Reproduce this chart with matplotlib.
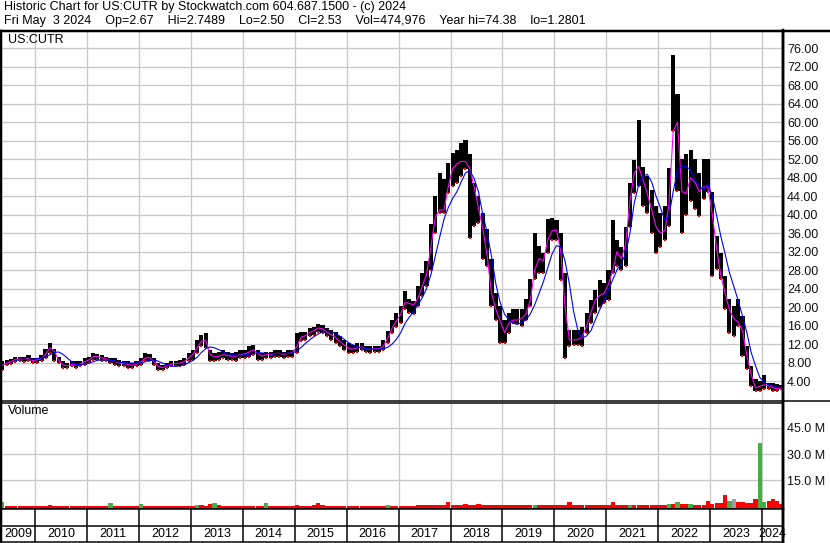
import numpy as np
import pandas as pd
import matplotlib
matplotlib.use("Agg")
import matplotlib.pyplot as plt
from matplotlib.lines import Line2D

plt.rcParams['font.family'] = ['Liberation Sans', 'DejaVu Sans']

# monthly values, May 2009 .. May 2024
months = pd.date_range('2009-05-01', '2024-05-01', freq='MS')

high = [
    8.3, 8.6, 8.8, 9.3, 9.3, 9.2, 9.7, 9.0,
    9.0, 9.7, 11.0, 12.2, 11.0, 9.2, 8.3, 8.0, 8.3, 8.3, 8.3, 9.0,
    9.3, 10.1, 9.9, 9.7, 9.3, 9.0, 9.0, 8.6, 8.3, 8.3, 7.9, 8.3,
    9.0, 10.1, 9.9, 9.0, 7.9, 7.5, 7.9, 8.3, 8.3, 8.6, 9.0, 10.1,
    10.8, 12.9, 14.0, 14.4, 10.8, 10.1, 10.4, 10.8, 10.4, 10.1, 10.4, 10.8,
    10.8, 11.5, 11.9, 10.8, 10.1, 10.4, 10.4, 10.8, 10.8, 10.4, 10.8, 10.8,
    14.4, 14.7, 14.7, 15.5, 15.8, 16.4, 16.2, 15.5, 15.1, 14.7, 13.7, 12.9,
    12.2, 11.9, 12.2, 12.2, 11.5, 11.5, 11.5, 11.5, 12.9, 14.9, 17.3, 18.7,
    20.2, 23.5, 21.7, 21.3, 24.5, 27.4, 30.0, 38.0, 44.0, 49.0, 47.6, 51.2,
    53.4, 54.0, 55.5, 56.2, 53.0, 46.9, 44.0, 40.4, 36.8, 30.3, 23.1, 20.2,
    17.3, 18.8, 19.5, 19.5, 19.5, 21.7, 26.0, 36.0, 33.2, 31.7, 39.0, 39.3,
    38.9, 36.0, 27.4, 15.1, 15.1, 15.1, 15.8, 18.7, 21.6, 23.8, 25.9, 25.2,
    28.1, 38.9, 34.6, 33.1, 37.4, 46.8, 51.9, 60.5, 50.4, 48.3, 45.4, 41.8,
    40.3, 41.8, 50.0, 74.6, 66.0, 52.0, 53.0, 54.0, 52.0, 49.0, 52.0, 52.0,
    44.8, 35.4, 31.8, 26.7, 21.7, 20.2, 21.7, 18.1, 11.6, 7.3, 4.4, 4.0,
    5.3, 3.7, 3.5, 3.3, 3.2,
]
low = [
    6.5, 7.5, 7.8, 8.2, 8.3, 8.2, 8.4, 7.9,
    7.9, 8.3, 9.0, 10.1, 8.3, 7.9, 6.8, 6.8, 7.2, 6.8, 7.2, 7.5,
    7.9, 8.6, 8.6, 8.3, 8.3, 7.9, 7.5, 7.2, 7.2, 6.8, 6.8, 7.2,
    7.5, 8.3, 8.3, 7.5, 6.5, 6.3, 6.8, 7.2, 7.2, 7.2, 7.5, 8.3,
    8.6, 10.1, 11.5, 11.1, 8.3, 8.3, 8.6, 9.0, 8.6, 8.6, 8.3, 9.0,
    9.0, 9.3, 9.7, 8.6, 8.6, 9.0, 9.0, 9.3, 9.3, 9.0, 9.3, 9.3,
    10.1, 12.6, 12.9, 13.7, 14.0, 14.7, 14.4, 13.7, 12.9, 12.2, 11.5, 10.8,
    10.1, 10.1, 10.4, 10.8, 10.4, 10.1, 10.4, 10.4, 10.8, 12.2, 14.4, 15.8,
    16.6, 19.5, 18.8, 18.5, 20.2, 22.4, 24.5, 28.0, 36.0, 40.4, 40.4, 44.7,
    46.2, 46.9, 48.3, 49.8, 35.0, 37.5, 38.2, 30.3, 28.9, 20.2, 17.3, 12.3,
    12.3, 14.4, 16.6, 16.3, 16.0, 17.3, 20.2, 26.0, 27.4, 27.4, 31.7, 34.6,
    34.6, 25.9, 9.0, 11.5, 11.8, 11.8, 11.5, 14.4, 16.6, 18.7, 20.1, 20.9,
    21.6, 27.4, 28.8, 28.1, 28.8, 37.4, 44.6, 46.1, 41.8, 40.3, 36.0, 31.7,
    33.1, 34.6, 37.5, 58.0, 45.0, 36.0, 40.0, 43.0, 41.2, 39.7, 43.3, 44.8,
    26.7, 28.2, 26.0, 19.5, 14.5, 13.8, 15.9, 9.4, 6.6, 2.9, 1.9, 1.9,
    2.2, 2.2, 1.9, 1.9, 2.3,
]
# short moving average (magenta)
ma_fast = [
    7.4, 7.9, 8.2, 8.7, 8.8, 8.7, 8.9, 8.4,
    8.6, 8.9, 9.8, 11.2, 10.5, 8.6, 7.5, 7.3, 7.6, 7.5, 7.7, 8.2,
    8.6, 9.3, 9.3, 9.0, 8.8, 8.5, 8.3, 7.9, 7.8, 7.6, 7.4, 7.7,
    8.2, 9.0, 9.1, 8.3, 7.2, 6.9, 7.3, 7.7, 7.8, 7.9, 8.2, 9.0,
    9.8, 11.3, 12.6, 12.8, 9.8, 9.2, 9.4, 9.7, 9.5, 9.4, 9.4, 9.7,
    9.9, 10.3, 10.8, 10.0, 9.4, 9.7, 9.7, 10.0, 10.0, 9.8, 10.0, 10.1,
    11.5, 13.5, 13.8, 14.5, 14.9, 15.5, 15.3, 14.6, 14.0, 13.4, 12.6, 11.8,
    11.1, 10.9, 11.2, 11.4, 11.0, 10.8, 11.0, 11.0, 11.6, 13.2, 15.4, 17.0,
    18.5, 21.0, 20.8, 20.5, 21.8, 24.5, 27.0, 33.0, 39.5, 41.0, 41.0, 46.0,
    50.0, 51.0, 51.5, 51.5, 50.0, 46.0, 41.5, 37.0, 31.0, 23.0, 19.5, 17.0,
    14.5, 16.5, 17.2, 17.2, 17.5, 18.5, 21.5, 28.0, 30.5, 30.0, 34.5, 36.5,
    36.7, 32.0, 20.0, 12.9, 12.9, 13.0, 13.6, 16.0, 19.0, 21.6, 22.5, 23.0,
    25.0, 28.0, 32.0, 30.5, 33.5, 43.0, 49.0, 50.4, 47.5, 44.5, 41.0, 37.4,
    36.0, 36.5, 42.0, 58.0, 60.0, 45.0, 44.5, 48.0, 47.0, 45.0, 46.0, 46.0,
    40.0, 32.5, 27.0, 23.0, 19.5, 17.5, 16.8, 15.0, 9.5, 5.5, 2.5, 2.9,
    3.2, 3.0, 2.6, 2.3, 2.6,
]
# long moving average (blue)
ma_slow = [
    np.nan, np.nan, np.nan, 8.5, 8.6, 8.7, 8.7, 8.7,
    8.9, 9.0, 9.2, 9.7, 10.2, 10.3, 9.8, 9.0, 8.2, 7.6, 7.5, 7.7,
    7.9, 8.2, 8.5, 8.6, 8.6, 8.5, 8.3, 8.1, 8.0, 7.9, 7.9, 7.9,
    7.9, 8.2, 8.5, 8.6, 8.3, 7.9, 7.5, 7.2, 7.2, 7.3, 7.5, 8.0,
    8.5, 9.2, 10.2, 11.0, 11.4, 11.2, 10.8, 10.3, 9.9, 9.7, 9.6, 9.6,
    9.7, 9.8, 10.0, 10.1, 10.1, 10.0, 9.9, 9.9, 10.0, 10.0, 10.0, 10.1,
    10.5, 11.3, 12.1, 12.9, 13.6, 14.2, 14.6, 14.8, 14.7, 14.3, 13.7, 13.0,
    12.3, 11.8, 11.4, 11.2, 11.0, 10.9, 10.9, 10.9, 11.0, 11.3, 12.0, 13.0,
    14.5, 16.5, 17.8, 19.0, 20.5, 22.0, 24.0, 27.0, 31.0, 35.0, 39.0, 41.5,
    43.5, 45.0, 47.0, 49.0, 49.5, 47.8, 45.0, 40.0, 36.0, 31.0, 25.0, 21.0,
    18.5, 17.2, 16.5, 16.3, 16.6, 17.3, 18.5, 20.5, 23.0, 25.5, 28.5, 31.5,
    33.3, 33.0, 30.0, 25.0, 19.0, 14.8, 13.3, 13.8, 15.0, 17.3, 19.5, 21.5,
    23.8, 26.0, 28.0, 29.5, 31.5, 36.0, 42.5, 46.5, 48.3, 48.7, 47.0, 44.0,
    41.5, 38.8, 39.5, 45.0, 49.5, 50.5, 50.4, 49.7, 47.5, 46.1, 45.5, 46.6,
    44.0, 39.7, 35.4, 31.5, 27.5, 24.5, 21.5, 18.1, 14.5, 10.2, 7.3, 4.8,
    3.7, 3.2, 3.0, 2.6, 2.7,
]
# peak daily volume in each month, millions
volume = [
    2.6, 0.6, 0.5, 0.5, 0.6, 0.5, 0.5, 0.5,
    0.5, 0.5, 0.6, 0.7, 0.6, 0.5, 0.5, 0.5, 0.5, 0.5, 0.5, 0.5,
    0.5, 0.5, 0.5, 0.5, 0.6, 1.9, 0.5, 0.5, 0.5, 0.5, 0.5, 0.5,
    1.5, 0.6, 0.5, 0.5, 0.5, 0.5, 0.5, 0.5, 0.5, 0.5, 0.5, 0.5,
    0.6, 1.0, 0.7, 0.6, 1.5, 2.0, 0.7, 0.6, 0.6, 0.6, 0.6, 0.6,
    0.6, 0.6, 0.6, 0.6, 0.6, 1.9, 0.6, 0.6, 0.6, 0.6, 0.6, 0.6,
    0.7, 0.6, 0.6, 0.6, 0.7, 1.9, 0.8, 0.6, 0.6, 0.6, 0.6, 0.6,
    0.6, 0.6, 0.6, 0.6, 0.6, 0.6, 0.6, 0.6, 0.6, 0.7, 0.6, 0.6,
    0.6, 0.6, 0.6, 0.6, 0.7, 0.7, 0.8, 0.8, 0.9, 0.8, 0.9, 2.6,
    0.8, 0.8, 0.9, 1.5, 0.9, 0.9, 1.2, 0.8, 0.9, 0.8, 0.8, 0.8,
    0.7, 0.7, 0.7, 0.7, 0.7, 0.8, 0.9, 1.0, 0.8, 0.8, 0.9, 0.8,
    0.8, 0.8, 0.9, 2.6, 0.8, 0.8, 0.8, 0.9, 0.8, 0.8, 0.9, 0.9,
    0.9, 2.6, 0.9, 0.9, 0.9, 0.9, 0.9, 0.9, 0.8, 0.8, 0.9, 0.8,
    0.9, 1.0, 1.5, 1.2, 2.6, 1.2, 1.2, 1.5, 1.0, 1.0, 1.0, 2.9,
    1.5, 2.0, 2.0, 6.5, 2.9, 4.3, 2.5, 2.5, 2.0, 2.0, 4.3, 36.2,
    2.5, 3.3, 4.3, 3.0, 1.5,
]
up_months = ['2009-05', '2011-06', '2012-01', '2013-02', '2013-06', '2014-06',
             '2016-10', '2019-08', '2021-06', '2022-03', '2022-05', '2022-08',
             '2023-05', '2023-12', '2024-01']
flat_months = ['2023-06']

year_labels = [str(y) for y in range(2009, 2025)]
price_ticks = np.arange(4, 77, 4)
vol_ticks = [15, 30, 45]

title1 = "Historic Chart for US:CUTR by Stockwatch.com 604.687.1500 - (c) 2024"
title2 = ("Fri May  3 2024    Op=2.67    Hi=2.7489    Lo=2.50    Cl=2.53    "
          "Vol=474,976    Year hi=74.38    lo=1.2801")

high = np.array(high)
low = np.array(low)
volume = np.array(volume)
mid = months + pd.Timedelta(days=15)
keys = months.strftime('%Y-%m')
vol_col = ['#44b044' if k in up_months else '#a0a0a0' if k in flat_months else '#ff0000'
           for k in keys]

W, H = 830, 543
PX = 0.72
GRID = '#c8c8c8'
fig = plt.figure(figsize=(W / 100, H / 100), dpi=100)


def px_box(x0, y0, x1, y1):
    return [x0 / W, 1 - y1 / H, (x1 - x0) / W, (y1 - y0) / H]


xlim = (pd.Timestamp('2009-05-07'), pd.Timestamp('2024-05-27'))
years = pd.date_range('2010-01-01', '2024-01-01', freq='YS')


def style(a):
    a.set_xlim(*xlim)
    a.set_xticks(years)
    a.tick_params(axis='x', length=0, labelbottom=False)
    a.yaxis.tick_right()
    a.tick_params(axis='y', length=0, pad=3, labelsize=9, labelcolor='#101010')
    a.grid(True, color=GRID, lw=1.3 * PX)
    a.set_axisbelow(True)
    for s in a.spines.values():
        s.set_color('black')
        s.set_linewidth(1.5 * PX)
    a.spines['left'].set_linewidth(2.5 * PX)
    a.spines['right'].set_linewidth(2.5 * PX)


# price panel
ax = fig.add_axes(px_box(1, 31, 783, 401))
ax.bar(mid, high - low, bottom=low, width=29, color='black', linewidth=0)
ax.plot(mid, low, 's', color='#ff0000', ms=1.8, mew=0)
ax.plot(mid, ma_fast, color='#ff00ff', lw=0.8)
ax.plot(mid, ma_slow, color='#0000ff', lw=0.8)
ax.set_ylim(-0.3, 79.7)
ax.set_yticks(price_ticks)
ax.set_yticklabels(['%.2f' % v for v in price_ticks])
style(ax)

# volume panel, bars start at the panel floor like the original
axv = fig.add_axes(px_box(1, 403, 783, 509))
vbase = -1.4
axv.bar(mid, volume - vbase, bottom=vbase, width=30, color=vol_col, linewidth=0)
axv.set_ylim(vbase, 59.3)
axv.set_yticks(vol_ticks)
axv.set_yticklabels(['%.1f M' % v for v in vol_ticks])
style(axv)

# date strip
axd = fig.add_axes(px_box(1, 509, 783, 542))
axd.set_xlim(*xlim)
axd.set_ylim(0, 1)
axd.set_xticks([])
axd.set_yticks([])
axd.vlines(years, 0, 1, color='black', lw=1.5 * PX)
axd.axhline(0.5, color='black', lw=1.5 * PX)
edges = [xlim[0]] + list(years) + [xlim[1]]
for lbl, a, b in zip(year_labels, edges[:-1], edges[1:]):
    axd.text(a + (b - a) / 2, 0.24, lbl, ha='center', va='center', fontsize=9)
for s in axd.spines.values():
    s.set_color('black')
    s.set_linewidth(1.5 * PX)
axd.spines['left'].set_linewidth(2.5 * PX)
axd.spines['right'].set_linewidth(2.5 * PX)

# header and frame
fig.text(4 / W, 1 - 1 / H, title1, va='top', fontsize=9)
fig.text(4 / W, 1 - 15 / H, title2, va='top', fontsize=9)
fig.text(8 / W, 1 - 34 / H, 'US:CUTR', va='top', fontsize=9)
fig.text(8 / W, 1 - 405 / H, 'Volume', va='top', fontsize=9)
fig.add_artist(Line2D([0, 1], [1 - 30.5 / H] * 2, color='black', lw=2.5 * PX))
fig.add_artist(Line2D([783 / W, 1], [1 - 401 / H] * 2, color='black', lw=1.5 * PX))
fig.add_artist(Line2D([782.5 / W] * 2, [0, 1 - 30 / H], color='black', lw=2.5 * PX))

fig.savefig('out.png', dpi=100)
